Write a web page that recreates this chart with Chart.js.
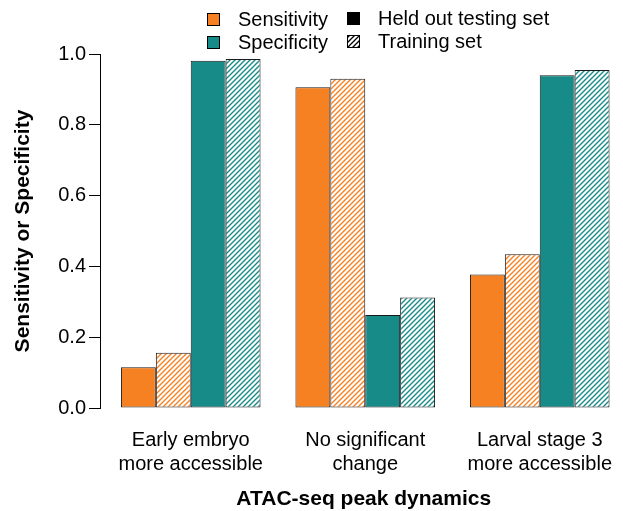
<!DOCTYPE html>
<html>
<head>
<meta charset="utf-8">
<script src="https://cdn.jsdelivr.net/npm/chart.js@4.4.1/dist/chart.umd.min.js"></script>
<style>
  html, body { margin: 0; padding: 0; background: #fff; overflow: hidden; }
  #wrap { width: 632px; height: 511px; position: relative; }
</style>
</head>
<body>
<div id="wrap"><canvas id="chart"></canvas></div>
<script>
const categories = [
  ["Early embryo", "more accessible"],
  ["No significant", "change"],
  ["Larval stage 3", "more accessible"]
];
const sensitivityTest = [0.115, 0.906, 0.377];
const sensitivityTrain = [0.156, 0.930, 0.434];
const specificityTest = [0.981, 0.263, 0.940];
const specificityTrain = [0.986, 0.312, 0.955];
const yTicks = [0, 0.2, 0.4, 0.6, 0.8, 1.0];

const ORANGE = "#F68122";
const TEAL = "#168B88";
const FONT = "'Liberation Sans', Arial, Helvetica, sans-serif";

// diagonal "////" hatching on white
function hatch(color, size, width) {
  const c = document.createElement("canvas");
  c.width = c.height = size;
  const g = c.getContext("2d");
  g.fillStyle = "#fff";
  g.fillRect(0, 0, size, size);
  g.strokeStyle = color;
  g.lineWidth = width;
  g.beginPath();
  g.moveTo(-1, size + 1); g.lineTo(size + 1, -1);
  g.moveTo(-1, 1); g.lineTo(1, -1);
  g.moveTo(size - 1, size + 1); g.lineTo(size + 1, size - 1);
  g.stroke();
  return g.createPattern(c, "repeat");
}

const toPoints = arr => arr.map((v, i) => ({ x: i, y: v }));

const barStyle = { borderColor: "#1a1a1a", borderWidth: 1, borderSkipped: false };

// two-column legend drawn above the plot
const legendBox = {
  id: "legendBox",
  afterDraw(chart) {
    const ctx = chart.ctx;
    const items = [
      { x: 207, y: 13, fill: ORANGE, text: "Sensitivity" },
      { x: 207, y: 36, fill: TEAL, text: "Specificity" },
      { x: 347, y: 12, fill: "#000", text: "Held out testing set" },
      { x: 347, y: 35, fill: hatch("#000", 5, 1.3), text: "Training set" }
    ];
    ctx.save();
    ctx.font = "20px " + FONT;
    ctx.textBaseline = "middle";
    items.forEach(it => {
      ctx.fillStyle = it.fill;
      ctx.fillRect(it.x, it.y, 13, 13);
      ctx.strokeStyle = "#000";
      ctx.lineWidth = 1;
      ctx.strokeRect(it.x + 0.5, it.y + 0.5, 12, 12);
      ctx.fillStyle = "#000";
      ctx.fillText(it.text, it.x + 31, it.y + 7);
    });
    ctx.restore();
  }
};

new Chart(document.getElementById("chart"), {
  type: "bar",
  data: {
    datasets: [
      { label: "Sensitivity, held out", data: toPoints(sensitivityTest), backgroundColor: ORANGE, ...barStyle },
      { label: "Sensitivity, training", data: toPoints(sensitivityTrain), backgroundColor: hatch(ORANGE, 5, 1.4), ...barStyle },
      { label: "Specificity, held out", data: toPoints(specificityTest), backgroundColor: TEAL, ...barStyle },
      { label: "Specificity, training", data: toPoints(specificityTrain), backgroundColor: hatch(TEAL, 5, 1.4), ...barStyle }
    ]
  },
  options: {
    responsive: true,
    maintainAspectRatio: false,
    animation: false,
    layout: { padding: { top: 54, left: 0, right: 0, bottom: 0 } },
    datasets: { bar: { categoryPercentage: 0.8, barPercentage: 1 } },
    plugins: { legend: { display: false }, tooltip: { enabled: false } },
    scales: {
      x: {
        type: "linear",
        offset: false,
        min: -0.52,
        max: 2.5027,
        grid: { display: false, drawTicks: false },
        border: { display: false },
        afterBuildTicks: s => { s.ticks = categories.map((c, i) => ({ value: i })); },
        afterFit: s => { s.height = 103; },
        ticks: {
          autoSkip: false,
          maxRotation: 0,
          padding: 20,
          color: "#000",
          font: { family: FONT, size: 20 },
          callback: v => categories[v]
        },
        title: {
          display: true,
          text: "ATAC-seq peak dynamics",
          color: "#000",
          font: { family: FONT, size: 21, weight: "bold" },
          padding: { top: 0, bottom: -1 }
        }
      },
      y: {
        min: 0,
        max: 1,
        afterBuildTicks: s => { s.ticks = yTicks.map(v => ({ value: v })); },
        afterFit: s => { s.width = 100; },
        grid: { display: true, drawOnChartArea: false, drawTicks: true, tickLength: 11, color: "#000" },
        border: { display: true, color: "#000", width: 1 },
        ticks: {
          padding: 3,
          color: "#000",
          font: { family: FONT, size: 20 },
          callback: v => v.toFixed(1)
        },
        title: {
          display: true,
          text: "Sensitivity or Specificity",
          color: "#000",
          font: { family: FONT, size: 21, weight: "bold" },
          padding: { top: 11, bottom: 0 }
        }
      }
    }
  },
  plugins: [legendBox]
});
</script>
</body>
</html>
